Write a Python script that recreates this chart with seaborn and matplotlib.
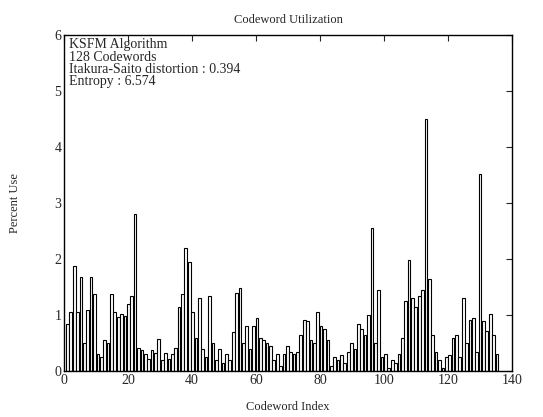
import numpy as np
import pandas as pd
import seaborn as sns
import matplotlib.pyplot as plt

# percent use of each codeword
usage = [
    0.85, 1.05, 1.88, 1.05, 1.68, 0.50, 1.10, 1.68, 1.38, 0.30,
    0.25, 0.55, 0.50, 1.37, 1.05, 0.97, 1.02, 0.98, 1.20, 1.35,
    2.80, 0.42, 0.38, 0.30, 0.22, 0.37, 0.33, 0.58, 0.20, 0.32,
    0.22, 0.30, 0.42, 1.15, 1.38, 2.20, 1.95, 1.05, 0.60, 1.30,
    0.40, 0.25, 1.35, 0.50, 0.20, 0.40, 0.15, 0.30, 0.20, 0.70,
    1.40, 1.48, 0.50, 0.80, 0.40, 0.80, 0.95, 0.60, 0.55, 0.50,
    0.45, 0.20, 0.30, 0.10, 0.30, 0.45, 0.35, 0.30, 0.35, 0.65,
    0.92, 0.90, 0.55, 0.50, 1.05, 0.80, 0.75, 0.55, 0.10, 0.25,
    0.20, 0.28, 0.15, 0.35, 0.50, 0.40, 0.85, 0.75, 0.65, 1.00,
    2.55, 0.50, 1.45, 0.25, 0.30, 0.05, 0.20, 0.15, 0.30, 0.60,
    1.25, 1.98, 1.30, 1.15, 1.35, 1.45, 4.50, 1.65, 0.65, 0.35,
    0.20, 0.05, 0.25, 0.28, 0.60, 0.65, 0.25, 1.30, 0.50, 0.92,
    0.95, 0.35, 3.52, 0.90, 0.72, 1.02, 0.65, 0.30,
]
codeword = np.arange(1, len(usage) + 1)
# in the scan the bars sit a little wider apart than one axis unit
bar_pitch = 1.057

info = ["KSFM Algorithm", "128 Codewords",
        "Itakura-Saito distortion : 0.394", "Entropy : 6.574"]

df = pd.DataFrame({"idx": codeword * bar_pitch, "pct": usage})

sns.set_style("white")
plt.rcParams["font.family"] = ["Liberation Serif", "DejaVu Serif"]

fig = plt.figure(figsize=(5.43, 4.17), dpi=100)
ax = fig.add_axes([0.118, 0.110, 0.825, 0.806])

sns.barplot(data=df, x="idx", y="pct", native_scale=True, color="white",
            edgecolor="black", linewidth=0.8, saturation=1, width=0.8, ax=ax)

ax.set_xlim(0, 140)
ax.set_ylim(0, 6)
ax.set_xticks(range(0, 141, 20))
ax.set_yticks(range(0, 7))
ax.tick_params(direction="in", length=4, width=0.8, labelsize=10, pad=2,
               top=True, right=True)
for s in ax.spines.values():
    s.set_visible(True)
    s.set_color("black")
    s.set_linewidth(1.0)

ax.set_title("Codeword Utilization", fontsize=9, pad=9)
ax.set_xlabel("Codeword Index", fontsize=9, labelpad=10)
ax.set_ylabel("Percent Use", fontsize=9, labelpad=24)
ax.text(0.012, 0.99, "\n".join(info), transform=ax.transAxes,
        va="top", ha="left", fontsize=10, linespacing=0.92)

fig.savefig("out.png", dpi=100)
